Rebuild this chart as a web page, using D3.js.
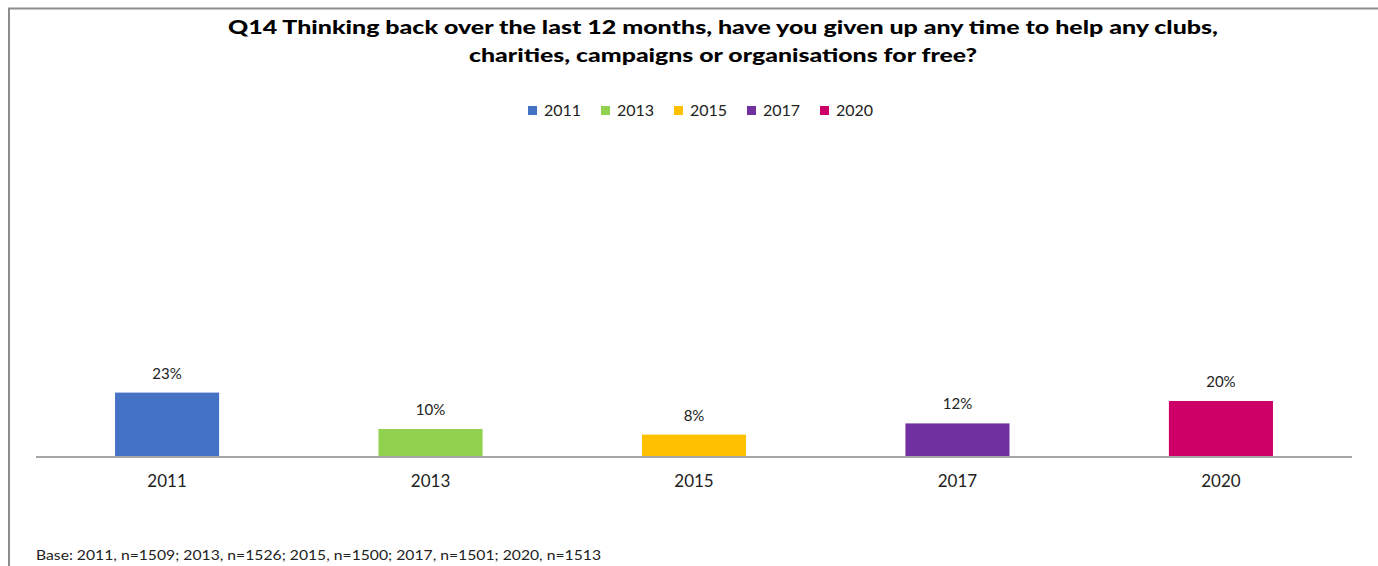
<!DOCTYPE html>
<html>
<head>
<meta charset="utf-8">
<script src="https://cdn.jsdelivr.net/npm/d3@7/dist/d3.min.js"></script>
<style>
  html, body { margin: 0; padding: 0; background: #fff; }
  svg { display: block; }
  text { font-family: "Century Gothic", Lato, "Open Sans", sans-serif; fill: #222; }
</style>
</head>
<body>
<svg id="chart" width="1378" height="566"></svg>
<script>
// Survey waves and share who volunteered time (%)
const years = ["2011", "2013", "2015", "2017", "2020"];
const values = [23, 10, 8, 12, 20];
const colors = ["#4472C4", "#92D050", "#FFC000", "#7030A0", "#CC0066"];
const titleLines = [
  "Q14 Thinking back over the last 12 months, have you given up any time to help any clubs,",
  "charities, campaigns or organisations for free?"
];
const baseNote = "Base: 2011, n=1509; 2013, n=1526; 2015, n=1500; 2017, n=1501; 2020, n=1513";

const W = 1378, H = 566;
const svg = d3.select("#chart");

// outer frame (top and left edges visible)
svg.append("path")
  .attr("d", `M9,${H} V8.5 H${W}`)
  .attr("fill", "none").attr("stroke", "#8c8c8c").attr("stroke-width", 2);

// title
const titleWidths = [990, 508];
svg.append("g").selectAll("text").data(titleLines).join("text")
  .attr("x", 723).attr("y", (d, i) => 34 + i * 28)
  .attr("text-anchor", "middle")
  .attr("font-size", 19).attr("font-weight", 900)
  .attr("textLength", (d, i) => titleWidths[i])
  .attr("lengthAdjust", "spacingAndGlyphs")
  .style("fill", "#000")
  .text(d => d);

// legend
const legend = svg.append("g").attr("transform", "translate(528,105)");
const item = legend.selectAll("g").data(years).join("g")
  .attr("transform", (d, i) => `translate(${i * 73},0)`);
item.append("rect").attr("width", 9).attr("height", 9).attr("y", 1)
  .attr("fill", (d, i) => colors[i]);
item.append("text").attr("x", 16).attr("y", 11)
  .attr("font-size", 16).text(d => d);

// plot area
const x0 = 36, x1 = 1352, yBase = 457;
const x = d3.scaleBand().domain(years).range([x0, x1]).paddingInner(0.605).paddingOuter(0.3);
const y = d3.scaleLinear().domain([0, 100]).range([yBase, yBase - 280]);

svg.append("g").selectAll("rect").data(values).join("rect")
  .attr("x", (d, i) => x(years[i]))
  .attr("y", d => y(d))
  .attr("width", x.bandwidth())
  .attr("height", d => yBase - y(d))
  .attr("fill", (d, i) => colors[i]);

// value labels
svg.append("g").selectAll("text").data(values).join("text")
  .attr("x", (d, i) => x(years[i]) + x.bandwidth() / 2)
  .attr("y", d => y(d) - 14)
  .attr("text-anchor", "middle")
  .attr("font-size", 15)
  .text(d => d + "%");

// category axis
const axis = svg.append("g").attr("transform", `translate(0,${yBase})`)
  .call(d3.axisBottom(x).tickSize(0).tickPadding(18));
axis.select(".domain").attr("stroke", "#a6a6a6").attr("stroke-width", 2)
  .attr("d", `M${x0},0H${x1}`);
axis.selectAll("text").attr("font-size", 17)
  .style("font-family", "\"Century Gothic\", Lato, \"Open Sans\", sans-serif")
  .style("fill", "#222");

// base note
svg.append("text").attr("x", 36).attr("y", 560)
  .attr("font-size", 13).attr("textLength", 565).attr("lengthAdjust", "spacingAndGlyphs")
  .text(baseNote);
</script>
</body>
</html>
